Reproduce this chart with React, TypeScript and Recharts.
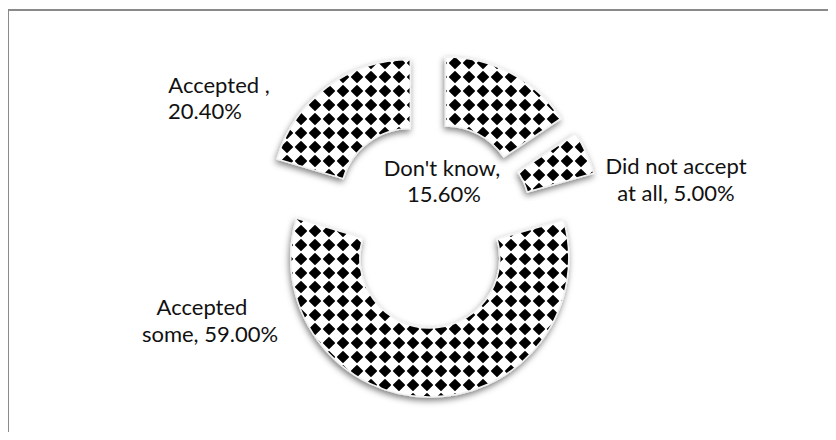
import React from 'react';
import { PieChart, Pie, Sector } from 'recharts';

// slices go clockwise from 12 o'clock
const categories = ["Don't know", 'Did not accept at all', 'Accepted some', 'Accepted '];
const shares = [15.6, 5.0, 59.0, 20.4];
// how many words of the label go on the first line
const firstLineWords = [2, 3, 1, 2];

const data = categories.map((name, i) => ({ name, value: shares[i] }));

// label anchors (centre of each line) in chart pixels
const labelPos = [
  { x1: 442, x2: 444, y1: 167, y2: 193 },
  { x1: 676, x2: 676, y1: 165, y2: 192 },
  { x1: 202, x2: 210, y1: 306, y2: 333 },
  { x1: 219, x2: 205, y1: 84, y2: 110 },
];

const RADIAN = Math.PI / 180;
const EXPLODE = 33;
const TILE = 14;

const ExplodedSector = (props: any) => {
  const { cx, cy, midAngle } = props;
  const dx = EXPLODE * Math.cos(-midAngle * RADIAN);
  const dy = EXPLODE * Math.sin(-midAngle * RADIAN);
  return (
    <Sector
      {...props}
      cx={cx + dx}
      cy={cy + dy}
      fill="url(#checker)"
      stroke="#f2f2f2"
      strokeWidth={1.5}
      filter="url(#softShadow)"
    />
  );
};

const renderLabel = (props: any) => {
  const { index } = props;
  const text = `${categories[index]}, ${shares[index].toFixed(2)}%`.replace('  ,', ' ,');
  const words = text.split(' ');
  const line1 = words.slice(0, firstLineWords[index]).join(' ');
  const line2 = words.slice(firstLineWords[index]).join(' ');
  const p = labelPos[index];
  const font = { fill: '#111', fontSize: 22, fontFamily: 'Lato, sans-serif' };
  return (
    <g>
      <text x={p.x1} y={p.y1} textAnchor="middle" dominantBaseline="central" {...font}>
        {line1}
      </text>
      <text x={p.x2} y={p.y2} textAnchor="middle" dominantBaseline="central" {...font}>
        {line2}
      </text>
    </g>
  );
};

export default function App() {
  return (
    <div style={{ position: 'relative', width: 836, height: 440, margin: -8, overflow: 'hidden', background: '#fff' }}>
      <div
        style={{
          position: 'absolute',
          left: 7,
          top: 9,
          width: 860,
          height: 460,
          borderTop: '2px solid #8a8a8a',
          borderLeft: '2px solid #8a8a8a',
        }}
      />
      <PieChart width={836} height={440} margin={{ top: 0, right: 0, bottom: 0, left: 0 }} style={{ position: 'absolute', left: 0, top: 0 }}>
        <defs>
          <filter id="blurDot" x="-20%" y="-20%" width="140%" height="140%">
            <feGaussianBlur stdDeviation="0.7" />
          </filter>
          <pattern id="checker" width={TILE} height={TILE} patternUnits="userSpaceOnUse">
            <rect width={TILE} height={TILE} fill="#fff" />
            <polygon
              points={`${TILE / 2},${TILE * 0.12} ${TILE * 0.88},${TILE / 2} ${TILE / 2},${TILE * 0.88} ${TILE * 0.12},${TILE / 2}`}
              fill="#000"
              stroke="#000"
              strokeWidth={1.5}
              strokeLinejoin="round"
              filter="url(#blurDot)"
            />
          </pattern>
          <filter id="softShadow" x="-10%" y="-10%" width="120%" height="125%">
            <feDropShadow dx={-1} dy={3} stdDeviation={3} floodColor="#000" floodOpacity={0.5} />
          </filter>
        </defs>
        <Pie
          data={data}
          dataKey="value"
          nameKey="name"
          cx={430}
          cy={225}
          innerRadius={70}
          outerRadius={139}
          startAngle={90}
          endAngle={-270}
          stroke="none"
          shape={ExplodedSector}
          label={renderLabel}
          labelLine={false}
          isAnimationActive={false}
        />
      </PieChart>
    </div>
  );
}
